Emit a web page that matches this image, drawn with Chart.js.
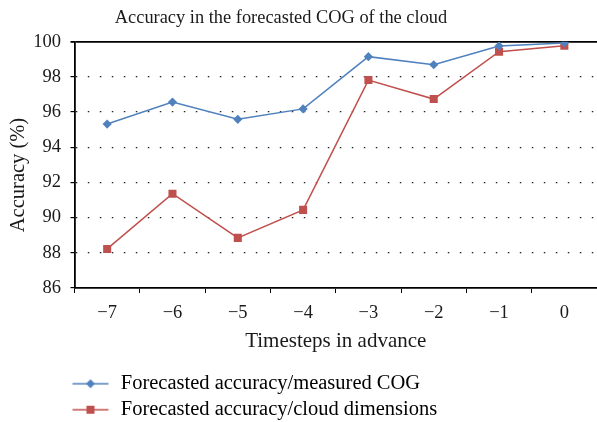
<!DOCTYPE html>
<html>
<head>
<meta charset="utf-8">
<script src="https://cdn.jsdelivr.net/npm/chart.js@4.4.0/dist/chart.umd.min.js"></script>
<style>
  html, body { margin: 0; padding: 0; background: #fff; }
  #wrap { width: 597px; height: 422px; }
</style>
</head>
<body>
<div id="wrap"><canvas id="chart" width="597" height="422"></canvas></div>
<script>
const timesteps = ['\u22127', '\u22126', '\u22125', '\u22124', '\u22123', '\u22122', '\u22121', '0'];
const measuredCog = [95.32, 96.57, 95.59, 96.18, 99.15, 98.69, 99.76, 99.93];
const cloudDims = [88.22, 91.36, 88.85, 90.44, 97.82, 96.74, 99.43, 99.77];
const chartTitle = 'Accuracy in the forecasted COG of the cloud';
const yTitle = 'Accuracy (%)';

const BLUE = '#4f81bd';
const RED = '#c0504d';
const FONT = "'Liberation Serif', 'Times New Roman', serif";
const INK = '#1a1a1a';

// legend symbol: blank lead-in, then a line with the marker in the middle
function legendIcon(color, shape) {
    const c = document.createElement('canvas');
    c.width = 101; c.height = 12;
    const g = c.getContext('2d');
    g.strokeStyle = color;
    g.lineWidth = 1.5;
    g.beginPath(); g.moveTo(63, 6); g.lineTo(99, 6); g.stroke();
    g.fillStyle = color;
    g.beginPath();
    if (shape === 'diamond') {
        g.moveTo(81, 1.5); g.lineTo(85.5, 6); g.lineTo(81, 10.5); g.lineTo(76.5, 6);
    } else {
        g.rect(77, 2, 8, 8);
    }
    g.closePath(); g.fill();
    return c;
}

// chart title and y title are not centred in the original, so place them by hand
const offsetTitles = {
    id: 'offsetTitles',
    afterDraw(chart) {
        const g = chart.ctx;
        g.save();
        g.fillStyle = INK;
        g.textAlign = 'center';
        g.textBaseline = 'middle';
        g.font = '18.4px ' + FONT;
        g.fillText(chartTitle, 281, 18);
        g.translate(18.5, 175);
        g.rotate(-Math.PI / 2);
        g.font = '20.5px ' + FONT;
        g.fillText(yTitle, 0, 0);
        g.restore();
    }
};

const ctx = document.getElementById('chart').getContext('2d');
new Chart(ctx, {
    type: 'line',
    data: {
        labels: timesteps,
        datasets: [{
            label: 'Forecasted accuracy/measured COG',
            data: measuredCog,
            borderColor: BLUE,
            backgroundColor: BLUE,
            borderWidth: 1.5,
            pointStyle: 'rectRot',
            pointRadius: 4.6,
            pointBorderWidth: 0,
            legendIcon: legendIcon(BLUE, 'diamond')
        }, {
            label: 'Forecasted accuracy/cloud dimensions',
            data: cloudDims,
            borderColor: RED,
            backgroundColor: RED,
            borderWidth: 1.5,
            pointStyle: 'rect',
            pointRadius: 5.7,
            pointBorderWidth: 0,
            legendIcon: legendIcon(RED, 'square')
        }]
    },
    plugins: [offsetTitles],
    options: {
        responsive: false,
        animation: false,
        layout: { autoPadding: false, padding: { left: 4, right: 0, top: 41.7, bottom: -8 } },
        plugins: {
            title: { display: false },
            legend: {
                position: 'bottom',
                align: 'start',
                labels: {
                    color: INK,
                    font: { family: FONT, size: 20.5 },
                    usePointStyle: true,
                    pointStyleWidth: 101,
                    padding: 5.5,
                    generateLabels(chart) {
                        return chart.data.datasets.map((ds, i) => ({
                            text: ds.label,
                            pointStyle: ds.legendIcon,
                            fillStyle: ds.borderColor,
                            strokeStyle: ds.borderColor,
                            lineWidth: 0,
                            hidden: false,
                            datasetIndex: i
                        }));
                    }
                }
            },
            tooltip: { enabled: false }
        },
        scales: {
            x: {
                offset: true,
                afterFit(scale) { scale.paddingRight = 0; },
                grid: {
                    offset: true,
                    drawOnChartArea: false,
                    drawTicks: true,
                    tickLength: 5,
                    color: '#000'
                },
                border: { color: '#000', width: 1.8 },
                ticks: {
                    color: INK,
                    font: { family: FONT, size: 18.5 },
                    padding: 9
                },
                title: {
                    display: true,
                    text: 'Timesteps in advance',
                    color: INK,
                    font: { family: FONT, size: 21 },
                    padding: { top: -4.5, bottom: 14.1 }
                }
            },
            y: {
                min: 86,
                max: 100,
                afterFit(scale) { scale.width = 70.5; },
                ticks: {
                    stepSize: 2,
                    color: INK,
                    font: { family: FONT, size: 18.5 },
                    padding: 9.5
                },
                grid: {
                    tickLength: 4,
                    tickColor: '#000',
                    color: c => (c.tick && c.tick.value === 86) ? 'rgba(0,0,0,0)' : (c.tick && c.tick.value === 100 ? '#000' : '#222'),
                    lineWidth: c => (c.tick && c.tick.value === 100) ? 1.8 : 1.2
                },
                border: {
                    color: '#000',
                    width: 1.8,
                    dash: c => (c.tick && c.tick.value === 100) ? [] : [1.5, 10.5]
                },
                title: { display: false }
            }
        }
    }
});
</script>
</body>
</html>
